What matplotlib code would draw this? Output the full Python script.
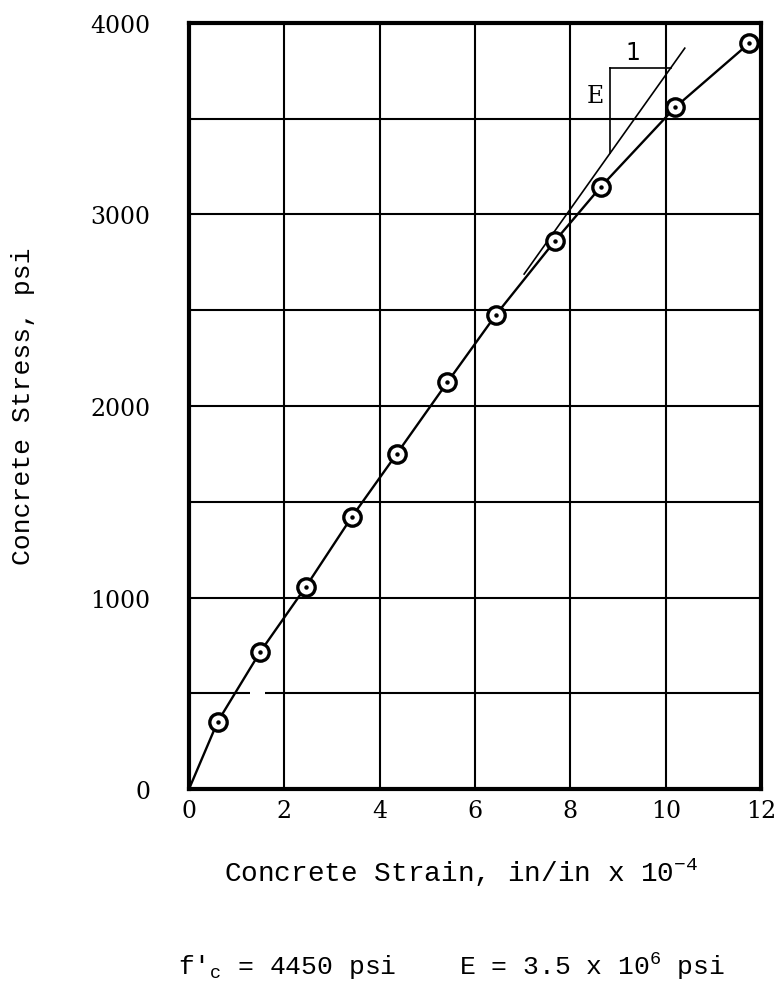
import matplotlib.pyplot as plt

plt.rcParams['mathtext.fontset'] = 'custom'
plt.rcParams['mathtext.rm'] = 'Liberation Mono'
plt.rcParams['mathtext.it'] = 'Liberation Mono'

# test points: strain (x 10^-4 in/in) and stress (psi)
strain = [0.60, 1.49, 2.45, 3.41, 4.36, 5.42, 6.44, 7.68, 8.64, 10.20, 11.75]
stress = [351, 715, 1056, 1419, 1751, 2124, 2477, 2863, 3145, 3560, 3894]

fc = 4450          # psi
E_mod = 3.5e6      # psi

x_ticks = [0, 2, 4, 6, 8, 10, 12]
y_ticks = [0, 1000, 2000, 3000, 4000]

mono = 'Liberation Mono'
serif = 'DejaVu Serif'

fig = plt.figure(figsize=(7.75, 9.95), dpi=100)
ax = fig.add_axes([0.2439, 0.206, 0.7381, 0.7699])

# grid, drawn by hand so the 500 line can keep its break
for gx in [2, 4, 6, 8, 10]:
    ax.axvline(gx, color='black', lw=1.5, zorder=1)
for gy in [1000, 1500, 2000, 2500, 3000, 3500]:
    ax.axhline(gy, color='black', lw=1.5, zorder=1)
ax.hlines([500, 500], [0, 1.59], [1.28, 12], color='black', lw=1.5, zorder=1)

# curve through origin and points
ax.plot([0] + strain, [0] + stress, color='black', lw=1.7, zorder=2)

# tangent line with slope E (strain axis in units of 1e-4)
slope = E_mod * 1e-4
x0, y0 = 7.03, 2689
tx = [x0, 10.40]
ax.plot(tx, [y0 + slope * (t - x0) for t in tx], color='black', lw=1.2, zorder=2)

# slope triangle
leg_x = 8.83
top_y = 3764
ax.plot([leg_x, leg_x], [y0 + slope * (leg_x - x0), top_y], color='black', lw=1.2)
ax.plot([leg_x, x0 + (top_y - y0) / slope], [top_y, top_y], color='black', lw=1.2)
ax.text(9.31, 3850, '1', fontsize=17, family='DejaVu Sans', ha='center', va='center')
ax.text(8.52, 3620, 'E', fontsize=17, family=serif, ha='center', va='center')

# markers: open circle with a dot in the middle
ax.plot(strain, stress, 'o', ms=12.5, mfc='white', mec='black', mew=2.4, zorder=3)
ax.plot(strain, stress, 'o', ms=2.2, color='black', zorder=4)

ax.set_xlim(0, 12)
ax.set_ylim(0, 4000)
ax.set_xticks(x_ticks)
ax.set_yticks(y_ticks)
ax.tick_params(length=0, labelsize=17)
ax.tick_params(axis='y', pad=28)
ax.tick_params(axis='x', pad=7)
for lab in ax.get_xticklabels() + ax.get_yticklabels():
    lab.set_family(serif)
for s in ax.spines.values():
    s.set_linewidth(3)

fig.text(0.595, 0.1136, 'Concrete Strain, in/in x 10$^{-4}$', fontsize=20,
         family=mono, ha='center', va='baseline')
fig.text(0.03, 0.592, 'Concrete Stress, psi', fontsize=19, family=mono,
         rotation=90, ha='center', va='center')
fig.text(0.583, 0.02, "f$'_\\mathrm{c}$ = %d psi    E = 3.5 x 10$^{6}$ psi" % fc,
         fontsize=19, family=mono, ha='center', va='baseline')

fig.savefig('out.png', dpi=100)
